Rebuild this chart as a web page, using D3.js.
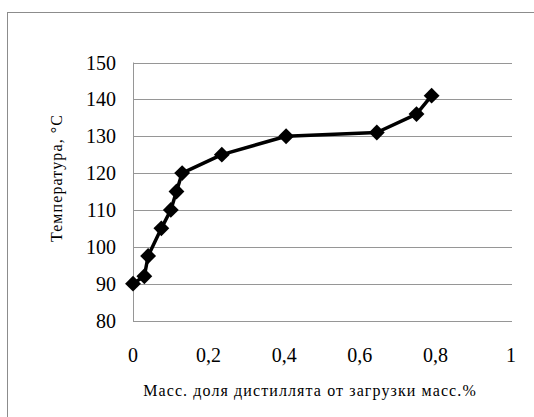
<!DOCTYPE html>
<html>
<head>
<meta charset="utf-8">
<script src="https://cdn.jsdelivr.net/npm/d3@7"></script>
<style>
  html, body { margin: 0; padding: 0; background: #fff; }
  svg { display: block; }
  text { font-family: "Liberation Serif", "DejaVu Serif", serif; }
</style>
</head>
<body>
<svg id="chart" width="534" height="417"></svg>
<script>
// Distillation curve: mass fraction of distillate vs temperature
const massFraction = [0, 0.03, 0.04, 0.075, 0.1, 0.115, 0.13, 0.235, 0.405, 0.645, 0.75, 0.79];
const temperature  = [90, 92, 97.5, 105, 110, 115, 120, 125, 130, 131, 136, 141];
const xTicks = [0, 0.2, 0.4, 0.6, 0.8, 1];
const yTicks = [80, 90, 100, 110, 120, 130, 140, 150];
const xTitle = "Масс. доля дистиллята от загрузки масс.%";
const yTitle = "Температура, °С";

const svg = d3.select("#chart");

// outer chart frame
svg.append("rect")
  .attr("x", 7.5).attr("y", 12.5)
  .attr("width", 540).attr("height", 420)
  .attr("fill", "#fff").attr("stroke", "#8c8c8c").attr("stroke-width", 1);

const x = d3.scaleLinear().domain([0, 1]).range([133, 511]);
const y = d3.scaleLinear().domain([80, 150]).range([320.5, 62.5]);

// horizontal gridlines
svg.append("g").selectAll("line").data(yTicks).join("line")
  .attr("x1", x(0)).attr("x2", 512)
  .attr("y1", d => Math.round(y(d)) + 0.5).attr("y2", d => Math.round(y(d)) + 0.5)
  .attr("stroke", "#969696").attr("stroke-width", 1);

// vertical axis line
svg.append("line")
  .attr("x1", x(0) + 0.5).attr("x2", x(0) + 0.5)
  .attr("y1", y(150)).attr("y2", y(80) + 0.5)
  .attr("stroke", "#969696");

// y tick labels
svg.append("g").selectAll("text").data(yTicks).join("text")
  .attr("x", 116).attr("y", d => y(d))
  .attr("dy", "0.35em")
  .attr("text-anchor", "end")
  .attr("font-size", 20)
  .attr("fill", "#000")
  .text(d => d);

// x tick labels
const fmt = d => String(d).replace(".", ",");
svg.append("g").selectAll("text").data(xTicks).join("text")
  .attr("x", d => x(d)).attr("y", 355)
  .attr("dy", "0.35em")
  .attr("text-anchor", "middle")
  .attr("font-size", 20)
  .attr("fill", "#000")
  .text(fmt);

// axis titles
svg.append("text")
  .attr("x", 310).attr("y", 390)
  .attr("dy", "0.35em")
  .attr("text-anchor", "middle")
  .attr("font-size", 16)
  .attr("letter-spacing", 1.1)
  .attr("fill", "#000")
  .text(xTitle);

svg.append("text")
  .attr("transform", "translate(56,178) rotate(-90)")
  .attr("dy", "0.35em")
  .attr("text-anchor", "middle")
  .attr("font-size", 16)
  .attr("letter-spacing", 1.1)
  .attr("fill", "#000")
  .text(yTitle);

// data line
const pts = massFraction.map((v, i) => [v, temperature[i]]);
svg.append("path")
  .datum(pts)
  .attr("fill", "none").attr("stroke", "#000").attr("stroke-width", 3.5)
  .attr("stroke-linejoin", "round")
  .attr("d", d3.line().x(d => x(d[0])).y(d => y(d[1])));

// diamond markers
const diamond = d3.symbol().type(d3.symbolDiamond2).size(160);
svg.append("g").selectAll("path").data(pts).join("path")
  .attr("transform", d => `translate(${x(d[0])},${y(d[1])})`)
  .attr("d", diamond)
  .attr("fill", "#000");
</script>
</body>
</html>
